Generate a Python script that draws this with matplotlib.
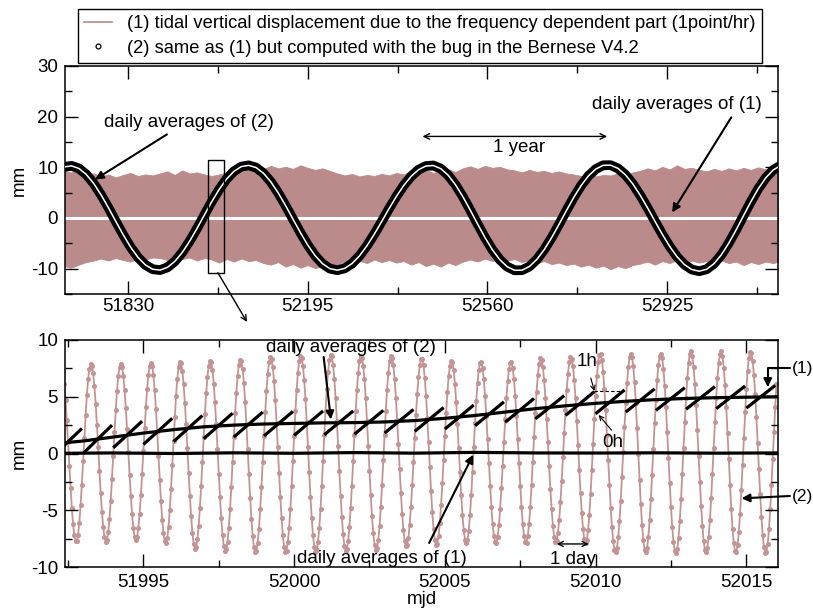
import numpy as np
import matplotlib
matplotlib.use('Agg')
import matplotlib.pyplot as plt
from matplotlib.lines import Line2D
from matplotlib.patches import Rectangle
from matplotlib.ticker import MultipleLocator, FixedLocator

plt.rcParams['font.family'] = ['Liberation Sans', 'DejaVu Sans']
plt.rcParams['font.size'] = 13.5
plt.rcParams['axes.unicode_minus'] = False

# ---------------- data: top panel (15-day grid) ----------------
top_mjd = np.arange(51700, 53156, 15)
tide_upper_mm = [9.3, 9.0, 9.4, 8.6, 8.8,
                 8.2, 8.6, 8.0, 8.5, 8.9, 8.3, 8.6, 8.4,
                 8.8, 9.2, 8.5, 9.4, 8.8, 9.0, 8.6,
                 8.3, 8.6, 9.0, 9.5, 9.8, 9.4,
                 10.0, 9.6, 10.3, 9.8, 10.1, 9.7, 10.4, 9.9, 9.5, 9.8, 9.3,
                 8.8, 8.4, 8.7, 8.2, 8.5, 8.3, 8.7, 8.4, 8.9,
                 8.6, 9.2, 8.8, 9.5, 8.9, 9.3, 9.6, 9.1, 9.8,
                 10.2, 9.7, 10.3, 9.9, 10.1, 9.6,
                 9.4, 9.0, 9.5, 9.1, 9.3, 8.9, 9.2, 8.8,
                 8.6, 8.3, 8.7, 8.2, 8.5, 8.4, 8.8, 8.6, 9.0,
                 9.3, 9.8, 9.4, 10.1, 9.6, 10.4, 9.7, 9.9, 9.5,
                 9.2, 9.7, 9.3, 9.8, 9.4, 9.9, 9.5, 10.0, 9.6, 9.3, 9.7]
tide_lower_mm = [-9.5, -9.8, -9.2, -8.7, -8.4,
                 -8.0, -8.4, -7.9, -8.3, -8.6, -8.0, -8.2, -7.8,
                 -7.9, -8.3, -7.6, -8.1, -7.8, -8.4, -7.9,
                 -8.2, -8.8, -8.1, -8.6, -8.0, -8.5,
                 -8.3, -8.9, -9.2, -8.7, -9.6, -9.1, -9.8, -9.3, -9.9, -9.4, -9.0,
                 -9.2, -8.6, -9.1, -8.4, -8.9, -8.2, -8.7, -8.3, -8.8,
                 -8.5, -9.2, -8.7, -9.5, -9.0, -9.6, -8.8, -9.3, -8.6,
                 -8.2, -8.6, -8.0, -8.5, -7.9, -8.4,
                 -8.1, -8.7, -8.3, -8.9, -8.5, -9.1, -8.8, -9.3,
                 -9.0, -9.6, -9.2, -9.8, -9.4, -10.1, -9.5, -9.9, -9.3,
                 -9.0, -8.6, -9.2, -8.5, -8.9, -8.3, -8.7, -8.4, -8.8,
                 -8.5, -9.0, -8.4, -8.9, -8.6, -9.3, -8.7, -9.1, -8.6, -8.9, -8.5]
avg2_top_mm = [10.07, 10.29, 9.79, 8.62, 6.86, 4.61, 2.06, -0.63, -3.28, -5.71, -7.75, -9.24, -10.11,
               -10.28, -9.75, -8.57, -6.81, -4.60, -2.08, 0.59, 3.22, 5.63, 7.67, 9.21, 10.14,
               10.39, 9.95, 8.84, 7.14, 4.96, 2.45, -0.22, -2.87, -5.33, -7.43, -9.02, -9.99,
               -10.30, -9.94, -8.98, -7.48, -5.51, -3.21, -0.72, 1.83, 4.26, 6.44, 8.23, 9.53, 10.26,
               10.36, 9.75, 8.46, 6.57, 4.21, 1.56, -1.20, -3.87, -6.28, -8.23, -9.61, -10.32,
               -10.30, -9.58, -8.21, -6.28, -3.93, -1.31, 1.41, 4.03, 6.38, 8.30, 9.66, 10.40,
               10.43, 9.79, 8.54, 6.74, 4.52, 2.02, -0.62, -3.21, -5.61, -7.64, -9.20, -10.17, -10.50,
               -10.12, -9.01, -7.26, -4.97, -2.34, 0.47, 3.24, 5.78, 7.91, 9.46, 10.33]
avg1_top_mjd = [51703, 53146]
avg1_top_mm = [0.0, 0.0]

top_xticks = [51830, 52195, 52560, 52925]
top_xminor = [52012.5, 52377.5, 52742.5, 53107.5]

# ---------------- data: bottom panel ----------------
peak_mjd = [51992.27, 51993.26, 51994.25, 51995.25, 51996.22, 51997.22, 51998.22, 51999.22,
            52000.22, 52001.22, 52002.22, 52003.22, 52004.23, 52005.22, 52006.19, 52007.19,
            52008.18, 52009.18, 52010.15, 52011.17, 52012.16, 52013.16, 52014.16, 52015.14, 52016.13]
peak_mm = [7.8, 7.9, 7.9, 8.0, 8.1, 8.2, 8.3, 8.5, 8.6, 8.7, 8.6, 8.6, 8.4, 8.2, 8.1, 8.1,
           8.4, 8.5, 8.8, 8.8, 8.8, 9.0, 9.0, 9.0, 9.0]
trough_mjd = [51991.77, 51992.77, 51993.76, 51994.75, 51995.74, 51996.72, 51997.72, 51998.72,
              51999.72, 52000.72, 52001.72, 52002.72, 52003.72, 52004.72, 52005.71, 52006.69,
              52007.69, 52008.68, 52009.67, 52010.66, 52011.66, 52012.66, 52013.66, 52014.65, 52015.64]
trough_mm = [-7.8, -7.8, -7.8, -7.6, -7.9, -8.4, -8.6, -8.7, -8.7, -8.7, -8.6, -8.5, -8.2,
             -8.1, -7.9, -7.9, -7.9, -7.8, -7.9, -8.7, -8.7, -8.8, -8.7, -8.7, -8.8]

bug_day = list(range(51992, 52016))
bug_start_mm = [-0.24, 0.0, 0.5, 0.8, 1.05, 1.3, 1.45, 1.55, 1.6, 1.65, 1.7, 1.8,
                1.95, 2.15, 2.45, 2.75, 3.05, 3.35, 3.5, 3.65, 3.8, 3.9, 3.95, 4.0]
bug_end_mm = [2.2, 2.5, 2.85, 3.1, 3.35, 3.55, 3.65, 3.7, 3.75, 3.75, 3.8, 3.88,
              4.05, 4.27, 4.55, 4.85, 5.1, 5.45, 5.6, 5.7, 5.8, 5.9, 5.95, 6.0]

avg2_bot_mjd = [51992.4, 51993, 51994, 51995, 51996, 51997, 51998, 51999, 52000, 52001, 52002,
                52003, 52004, 52005, 52006, 52007, 52008, 52009, 52010, 52011, 52012, 52013,
                52014, 52015, 52016]
avg2_bot_mm = [0.95, 1.1, 1.45, 1.8, 2.1, 2.35, 2.5, 2.6, 2.65, 2.7, 2.72, 2.78, 2.9, 3.1,
               3.35, 3.65, 3.95, 4.2, 4.42, 4.6, 4.75, 4.85, 4.92, 4.96, 5.0]
avg1_bot_mjd = [51992.4, 51994, 51996, 51998, 52000, 52002, 52004, 52006, 52008, 52010,
                52012, 52014, 52016]
avg1_bot_mm = [0.02, 0.05, 0.0, 0.06, 0.02, 0.08, 0.03, 0.1, 0.05, 0.04, 0.06, 0.03, 0.05]

TIDE_TOP = '#bb8a8a'
TIDE_BOT = '#c49494'

W, H = 813, 610
fig = plt.figure(figsize=(W / 100, H / 100), dpi=100)


def fx(px):
    return px / W


def fy(py):
    return 1 - py / H


ax1 = fig.add_axes([fx(65), fy(294), fx(778) - fx(65), fy(66) - fy(294)])
ax2 = fig.add_axes([fx(65), fy(567), fx(778) - fx(65), fy(340) - fy(567)])

# ---------------- top panel ----------------
ax1.fill_between(top_mjd, tide_lower_mm, tide_upper_mm, color=TIDE_TOP, lw=0.6,
                 edgecolor=TIDE_TOP, zorder=1)
ax1.plot(avg1_top_mjd, avg1_top_mm, color='white', lw=2.2, zorder=2)
ax1.plot(top_mjd, avg2_top_mm, color='black', lw=7.0, solid_joinstyle='round',
         solid_capstyle='round', zorder=3)
ax1.plot(top_mjd, avg2_top_mm, color='white', lw=1.1, zorder=4)

ax1.set_xlim(51702, 53150)
ax1.set_ylim(-15, 30)
ax1.xaxis.set_major_locator(FixedLocator(top_xticks))
ax1.xaxis.set_minor_locator(FixedLocator(top_xminor))
ax1.yaxis.set_major_locator(MultipleLocator(10))
ax1.yaxis.set_minor_locator(MultipleLocator(5))
ax1.set_ylabel('mm')
ax1.yaxis.set_label_coords(-0.052, 0.5)

ax1.add_patch(Rectangle((51992, -10.8), 32, 22.2, fill=False, ec='black', lw=1.0, zorder=5))
ax1.annotate('', xy=(fx(247), fy(322)), xycoords='figure fraction',
             xytext=(52012.5, -10.8), textcoords='data',
             arrowprops=dict(arrowstyle='->', lw=1.0, color='black', shrinkA=0, shrinkB=0,
                             mutation_scale=10),
             annotation_clip=False)

ax1.text(51954.7, 18.87, 'daily averages of (2)', ha='center', va='center')
ax1.annotate('', xy=(51763, 7.6), xytext=(51909, 16.5),
             arrowprops=dict(arrowstyle='-|>', lw=1.5, color='black', shrinkA=0, shrinkB=0,
                             mutation_scale=12))
ax1.text(52944, 22.4, 'daily averages of (1)', ha='center', va='center')
ax1.annotate('', xy=(52935, 1.1), xytext=(53055, 19.85),
             arrowprops=dict(arrowstyle='-|>', lw=1.5, color='black', shrinkA=0, shrinkB=0,
                             mutation_scale=12))
ax1.annotate('', xy=(52428, 16.1), xytext=(52803, 16.1),
             arrowprops=dict(arrowstyle='<->', lw=1.0, color='black', shrinkA=0, shrinkB=0,
                             mutation_scale=10))
ax1.text(52625, 13.9, '1 year', ha='center', va='center')

# ---------------- bottom panel ----------------
ext_t = np.array(peak_mjd + trough_mjd)
ext_v = np.array(peak_mm + trough_mm)
order = np.argsort(ext_t)
ext_t, ext_v = ext_t[order], ext_v[order]
hours = np.arange(51992 * 24, 52016 * 24 + 1) / 24.0
idx = np.searchsorted(ext_t, hours) - 1
t0, t1 = ext_t[idx], ext_t[idx + 1]
v0, v1 = ext_v[idx], ext_v[idx + 1]
frac = (hours - t0) / (t1 - t0)
tide = (v0 + v1) / 2 + (v0 - v1) / 2 * np.cos(np.pi * frac)
ax2.plot(hours, tide, color=TIDE_BOT, lw=1.3, marker='o', ms=2.6, mec=TIDE_BOT,
         mfc=TIDE_BOT, zorder=1)

for d, s, e in zip(bug_day, bug_start_mm, bug_end_mm):
    hh = d + np.arange(24) / 24.0
    ax2.plot(hh, np.linspace(s, e, 24), color='black', lw=2.3, solid_capstyle='butt', zorder=3)
ax2.plot(avg2_bot_mjd, avg2_bot_mm, color='black', lw=2.3, zorder=3)
ax2.plot(avg1_bot_mjd, avg1_bot_mm, color='black', lw=2.3, zorder=3)

ax2.set_xlim(51992.4, 52016.05)
ax2.set_ylim(-10, 10)
ax2.xaxis.set_major_locator(MultipleLocator(5))
ax2.xaxis.set_minor_locator(MultipleLocator(2.5))
ax2.yaxis.set_major_locator(MultipleLocator(5))
ax2.yaxis.set_minor_locator(MultipleLocator(2.5))
ax2.set_ylabel('mm')
ax2.yaxis.set_label_coords(-0.052, 0.5)
ax2.set_xlabel('mjd')
ax2.xaxis.set_label_coords(0.5, -0.104)

ax2.text(52001.88, 9.3, 'daily averages of (2)', ha='center', va='center')
ax2.annotate('', xy=(52001.22, 3.0), xytext=(52000.98, 8.5),
             arrowprops=dict(arrowstyle='-|>', lw=1.5, color='black', shrinkA=0, shrinkB=0,
                             mutation_scale=12))
ax2.text(52002.9, -9.24, 'daily averages of (1)', ha='center', va='center')
ax2.annotate('', xy=(52005.94, -0.1), xytext=(52004.48, -7.88),
             arrowprops=dict(arrowstyle='-|>', lw=1.5, color='black', shrinkA=0, shrinkB=0,
                             mutation_scale=12))
ax2.annotate('', xy=(52008.71, -7.97), xytext=(52009.77, -7.97),
             arrowprops=dict(arrowstyle='<->', lw=1.0, color='black', shrinkA=0, shrinkB=0,
                             mutation_scale=9))
ax2.text(52009.24, -9.3, '1 day', ha='center', va='center')
ax2.text(52009.71, 8.07, '1h', ha='center', va='center')
ax2.annotate('', xy=(52009.96, 5.5), xytext=(52009.84, 6.65),
             arrowprops=dict(arrowstyle='->', lw=0.8, color='black', shrinkA=0, shrinkB=0,
                             mutation_scale=8))
ax2.plot([52009.96, 52010.93], [5.5, 5.5], color='black', lw=0.8, ls=(0, (3, 2)), zorder=4)
ax2.text(52010.57, 0.99, '0h', ha='center', va='center')
ax2.annotate('', xy=(52010.1, 3.4), xytext=(52010.53, 2.05),
             arrowprops=dict(arrowstyle='->', lw=0.8, color='black', shrinkA=0, shrinkB=0,
                             mutation_scale=8))

fig.text(fx(792), fy(369), '(1)', ha='left', va='center', fontsize=12.5)
ax2.annotate('', xy=(52015.71, 5.85), xycoords='data', xytext=(fx(790), fy(368)),
             textcoords='figure fraction',
             arrowprops=dict(arrowstyle='-|>', connectionstyle='angle,angleA=0,angleB=90,rad=0',
                             lw=1.5, color='black', shrinkA=0, shrinkB=0, mutation_scale=12),
             annotation_clip=False)
fig.text(fx(792), fy(496), '(2)', ha='left', va='center', fontsize=12.5)
ax2.annotate('', xy=(52014.84, -3.95), xycoords='data', xytext=(fx(790), fy(496)),
             textcoords='figure fraction',
             arrowprops=dict(arrowstyle='-|>', lw=1.5, color='black', shrinkA=0, shrinkB=0,
                             mutation_scale=12),
             annotation_clip=False)

for ax in (ax1, ax2):
    ax.tick_params(which='both', direction='in', top=True, right=True, width=1.0,
                   labelsize=13.5)
    ax.tick_params(which='major', length=9.5)
    ax.tick_params(which='minor', length=5)
    ax.tick_params(axis='y', pad=5)
    for sp in ax.spines.values():
        sp.set_linewidth(1.1)
ax1.tick_params(axis='x', pad=3)
ax2.tick_params(axis='x', pad=5)

handles = [Line2D([], [], color=TIDE_TOP, lw=1.2),
           Line2D([], [], ls='none', marker='o', ms=3.5, mfc='white', mec='black', mew=0.9)]
labels = ['(1) tidal vertical displacement due to the frequency dependent part (1point/hr)',
          '(2) same as (1) but computed with the bug in the Bernese V4.2']
leg = fig.legend(handles, labels, loc='upper left', bbox_to_anchor=(fx(78), fy(9)),
                 frameon=True, fancybox=False, edgecolor='black', framealpha=1,
                 borderpad=0.35, handlelength=1.5, handletextpad=0.8, labelspacing=0.4,
                 borderaxespad=0, fontsize=13.2)
leg.get_frame().set_linewidth(1.0)

fig.savefig('out.png', dpi=100)
